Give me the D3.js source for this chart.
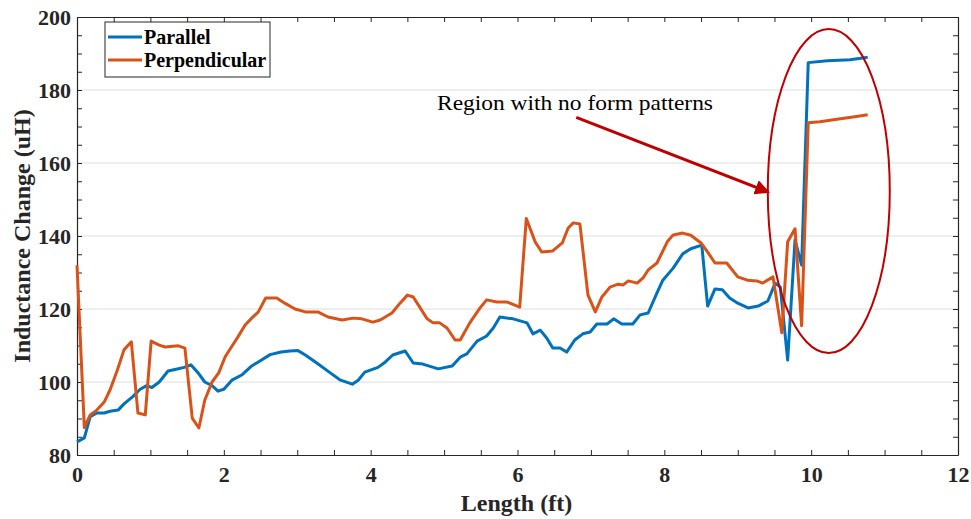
<!DOCTYPE html>
<html><head><meta charset="utf-8">
<script src="https://cdn.jsdelivr.net/npm/d3@7"></script>
<style>body{margin:0;background:#fff;}svg{display:block;}</style>
</head><body>
<svg id="c" width="971" height="519"></svg>
<script>
const seriesNames = ["Parallel", "Perpendicular"];
const seriesColors = ["#0072BD", "#D95319"];
const xTicks = [0, 2, 4, 6, 8, 10, 12];
const yTicks = [80, 100, 120, 140, 160, 180, 200];

const parallelX = [0,0.10,0.18,0.27,0.37,0.45,0.56,0.64,0.76,0.86,0.95,1.02,1.12,1.24,1.35,1.46,1.55,1.65,1.74,1.84,1.92,2.00,2.11,2.25,2.38,2.47,2.63,2.78,2.90,3.01,3.11,3.28,3.45,3.58,3.75,3.83,3.92,4.10,4.20,4.30,4.47,4.58,4.71,4.92,5.11,5.22,5.31,5.45,5.58,5.67,5.76,5.94,6.13,6.21,6.31,6.40,6.48,6.58,6.67,6.78,6.89,6.99,7.08,7.22,7.31,7.42,7.57,7.67,7.78,7.90,7.98,8.12,8.25,8.36,8.51,8.59,8.69,8.79,8.89,9.00,9.14,9.28,9.41,9.51,9.58,9.68,9.78,9.87,9.96,10.22,10.53,10.77];
const parallelY = [83.6,84.7,90.5,91.5,91.5,92,92.3,94,96,98,99,98.5,100,103,103.5,104,104.7,102.5,100,99,97.5,98,100.5,102,104.4,105.5,107.5,108.2,108.5,108.6,107.4,105,102.5,100.6,99.4,100.5,102.7,104,105.5,107.4,108.5,105.2,104.9,103.6,104.4,106.8,107.7,111.2,112.6,114.8,117.8,117.3,116.2,113.2,114.2,112,109.3,109.3,108.2,111.5,113.2,113.7,115.9,115.9,117.3,115.9,115.9,118.4,118.9,124.4,127.9,131.2,135.1,136.5,137.5,120.8,125.5,125.3,123,121.6,120.3,120.8,122.2,127.1,126,106,138.9,132,187.5,188,188.3,189];

const perpX = [0,0.10,0.18,0.27,0.37,0.45,0.55,0.64,0.74,0.83,0.93,1.01,1.12,1.20,1.38,1.47,1.57,1.66,1.74,1.84,1.93,2.02,2.11,2.19,2.29,2.38,2.47,2.57,2.72,2.83,2.97,3.11,3.28,3.42,3.61,3.76,3.88,4.03,4.13,4.29,4.40,4.50,4.58,4.77,4.85,4.94,5.04,5.15,5.22,5.35,5.49,5.58,5.72,5.86,6.03,6.12,6.24,6.33,6.48,6.61,6.69,6.76,6.85,6.96,7.06,7.15,7.26,7.37,7.44,7.51,7.63,7.71,7.78,7.90,8.04,8.12,8.25,8.36,8.50,8.59,8.69,8.85,9.00,9.13,9.26,9.34,9.48,9.60,9.68,9.78,9.87,9.96,10.12,10.35,10.57,10.77];
const perpY = [132,87.5,91,92.3,94.5,97.8,103.3,108.8,111,91.5,91,111.2,110.1,109.6,109.9,109.3,90.1,87.4,95,100,102.5,107,109.8,112.3,115.6,117.5,119.2,123,123,121.6,120,119.2,119.2,117.8,117,117.5,117.3,116.4,117,118.9,121.6,123.8,123.3,117.3,116.2,116.2,114.8,111.5,111.5,116.2,120.3,122.5,121.9,121.9,120.5,144.8,138.4,135.6,135.9,138.1,142.2,143.6,143.3,123.8,119.2,123.3,126,126.8,126.6,127.7,127.1,128.5,130.7,132.6,138.4,140.3,140.8,140.2,138.1,135.6,132.6,132.6,128.8,127.9,127.7,127.1,128.8,113.5,138.4,142,115.4,171,171.3,172,172.6,173.2];

const annotationText = "Region with no form patterns";
const xLabel = "Length (ft)";
const yLabel = "Inductance Change (uH)";

const svg = d3.select("#c");
const L = 77, R = 958, T = 17, B = 455;
const x = d3.scaleLinear().domain([0, 12]).range([L, R]);
const y = d3.scaleLinear().domain([80, 200]).range([B, T]);
const axisColor = "#262626";
const font = "'Liberation Serif','Times New Roman',serif";

// gridlines
svg.append("g").selectAll("line").data(yTicks.slice(1, -1)).join("line")
  .attr("x1", L).attr("x2", R).attr("y1", d => y(d)).attr("y2", d => y(d))
  .attr("stroke", "#dedede").attr("stroke-width", 1);

// axes with inward ticks
const minorX = d3.range(0, 12.01, 0.5);
const minorY = d3.range(80, 200.01, 5);
function addAxis(axisGen, tr) {
  const g = svg.append("g").attr("transform", tr).call(axisGen);
  g.select(".domain").attr("stroke", axisColor).attr("stroke-width", 1.2);
  g.selectAll(".tick line").attr("stroke", axisColor);
  return g;
}
const xb = addAxis(d3.axisBottom(x).tickValues(minorX).tickSizeInner(-5).tickSizeOuter(0)
  .tickFormat(d => xTicks.includes(d) ? d : ""), `translate(0,${B})`);
xb.selectAll(".tick text").attr("y", 11).attr("font-family", font).attr("font-weight", "bold")
  .attr("font-size", 22).attr("fill", "#262626").attr("dy", "0.71em");
addAxis(d3.axisTop(x).tickValues(minorX).tickSizeInner(-5).tickSizeOuter(0).tickFormat(""), `translate(0,${T})`);
const yl = addAxis(d3.axisLeft(y).tickValues(minorY).tickSizeInner(-5).tickSizeOuter(0)
  .tickFormat(d => yTicks.includes(d) ? d : ""), `translate(${L},0)`);
yl.selectAll(".tick text").attr("x", -6).attr("font-family", font).attr("font-weight", "bold")
  .attr("font-size", 22).attr("fill", "#262626");
addAxis(d3.axisRight(y).tickValues(minorY).tickSizeInner(-5).tickSizeOuter(0).tickFormat(""), `translate(${R},0)`);

// lines
const line = d3.line().x(d => x(d[0])).y(d => y(d[1]));
const series = [
  d3.zip(parallelX, parallelY),
  d3.zip(perpX, perpY)
];
series.forEach((s, i) => {
  svg.append("path").datum(s).attr("d", line).attr("fill", "none")
    .attr("stroke", seriesColors[i]).attr("stroke-width", 3).attr("stroke-linejoin", "round");
});

// axis titles
svg.append("text").attr("x", (L + R) / 2 - 1).attr("y", 511).attr("text-anchor", "middle")
  .attr("font-family", font).attr("font-weight", "bold").attr("font-size", 24).attr("fill", "#262626").text(xLabel);
svg.append("text").attr("transform", `translate(30,${(T + B) / 2}) rotate(-90)`).attr("text-anchor", "middle")
  .attr("font-family", font).attr("font-weight", "bold").attr("font-size", 24).attr("fill", "#262626").text(yLabel);

// legend
const lg = svg.append("g");
lg.append("rect").attr("x", 105).attr("y", 22).attr("width", 165).attr("height", 55)
  .attr("fill", "#fff").attr("stroke", axisColor).attr("stroke-width", 1);
seriesNames.forEach((n, i) => {
  const yy = 37 + i * 23;
  lg.append("line").attr("x1", 108).attr("x2", 142).attr("y1", yy).attr("y2", yy)
    .attr("stroke", seriesColors[i]).attr("stroke-width", 3);
  lg.append("text").attr("x", 144).attr("y", yy).attr("dy", "0.35em")
    .attr("font-family", font).attr("font-weight", "bold").attr("font-size", 20).attr("fill", "#000").text(n);
});

// annotation
const red = "#c00000";
svg.append("defs").append("marker").attr("id", "ah").attr("viewBox", "0 0 10 10")
  .attr("refX", 9).attr("refY", 5).attr("markerWidth", 5).attr("markerHeight", 5).attr("orient", "auto")
  .append("path").attr("d", "M0,0 L10,5 L0,10 z").attr("fill", red);
svg.append("line").attr("x1", x(6.8)).attr("y1", y(172.5)).attr("x2", x(9.42)).attr("y2", y(152))
  .attr("stroke", red).attr("stroke-width", 3).attr("marker-end", "url(#ah)");
svg.append("ellipse").attr("cx", x(10.24)).attr("cy", y(152.3)).attr("rx", 61).attr("ry", 162)
  .attr("fill", "none").attr("stroke", red).attr("stroke-width", 2);
svg.append("text").attr("x", 437).attr("y", 110).attr("font-family", font).attr("font-size", 22)
  .attr("textLength", 276).attr("lengthAdjust", "spacingAndGlyphs")
  .attr("fill", "#000").text(annotationText);
</script>
</body></html>
